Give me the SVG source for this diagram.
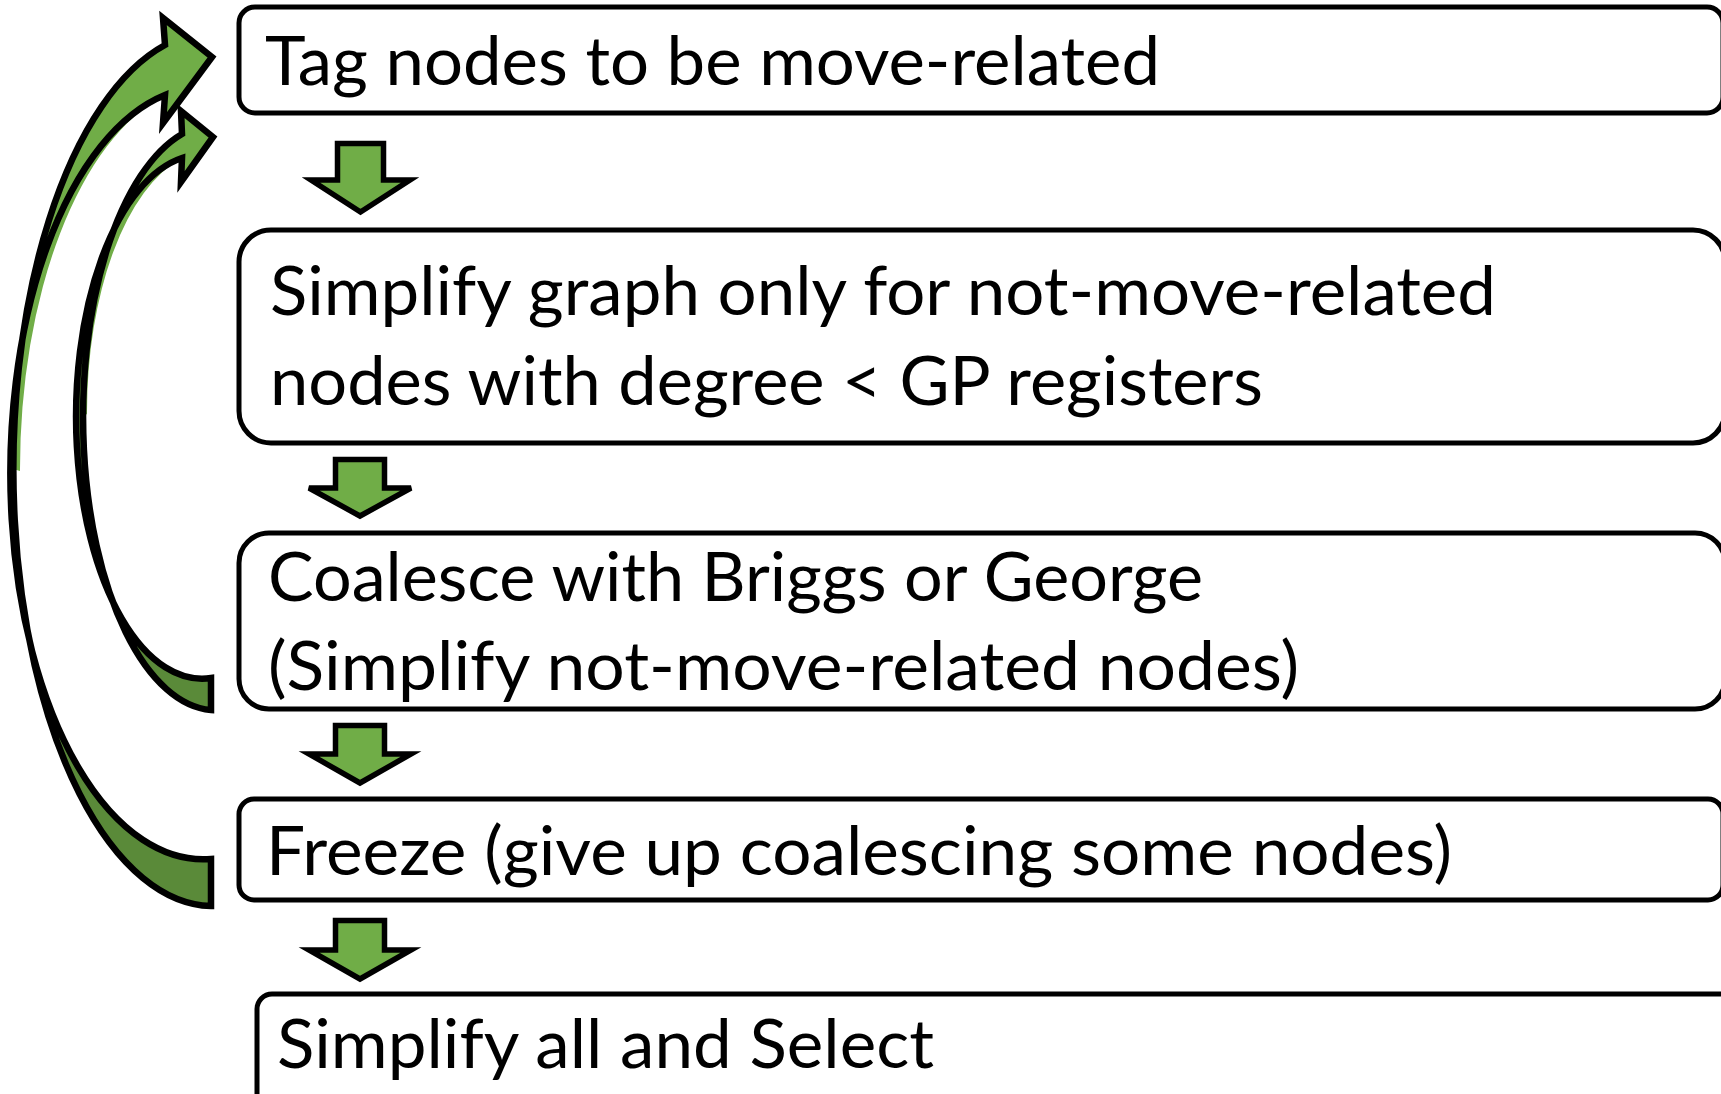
<svg xmlns="http://www.w3.org/2000/svg" width="1721" height="1094" viewBox="0 0 1721 1094">
<style>
.box{fill:#fff;stroke:#000;stroke-width:5}
.lbl{font-family:Lato,"Open Sans","Liberation Sans",sans-serif;font-size:67px;fill:#000}
.down{fill:#70AD47;stroke:#000;stroke-width:5.5;stroke-linejoin:miter}
.light{fill:#70AD47;stroke:none}
.dark{fill:#5A8A39;stroke:none}
.outline{fill:none;stroke:#000;stroke-width:6.5;stroke-linejoin:miter}
</style>
<rect width="1721" height="1094" fill="#fff"/>
<g id="connectors">
  <g id="loop-outer">
    <path class="dark" d="M 211 906 A 200 437 0 0 1 165 45 L 163 18 L 212 57 L 163 123 L 165 95 A 193 386 0 0 0 211 859 Z"/>
    <path class="light" d="M 13 469 A 200 437 0 0 1 165 45 L 163 18 L 212 57 L 163 123 L 165 95 A 193 386 0 0 0 20 471 Z"/>
    <path class="outline" d="M 211 906 A 200 437 0 0 1 165 45 L 163 18 L 212 57 L 163 123 L 165 95 A 193 386 0 0 0 211 859 Z"/>
  </g>
  <g id="loop-inner">
    <path class="dark" d="M 211 710 A 133 293 0 0 1 182 134 L 181 111 L 213 137 L 181 182 L 182 158 A 126 262 0 0 0 211 678 Z"/>
    <path class="light" d="M 80 418 A 133 293 0 0 1 182 134 L 181 111 L 213 137 L 181 182 L 182 158 A 126 262 0 0 0 87 414 Z"/>
    <path class="outline" d="M 211 710 A 133 293 0 0 1 182 134 L 181 111 L 213 137 L 181 182 L 182 158 A 126 262 0 0 0 211 678 Z"/>
  </g>
  <path class="down" d="M 337.5 143.5 H 383.5 V 180 H 410 L 360.5 212 L 311 180 H 337.5 Z"/>
  <path class="down" d="M 335.5 459.5 H 384.5 V 488 H 411 L 360 516 L 309 488 H 335.5 Z"/>
  <path class="down" d="M 335.5 725.5 H 384.5 V 754 H 411 L 360 783 L 309 754 H 335.5 Z"/>
  <path class="down" d="M 335.5 920.5 H 384.5 V 950 H 411 L 360 979 L 309 950 H 335.5 Z"/>
</g>
<g id="node-tag">
  <rect class="box" x="239" y="7" width="1484" height="106" rx="16"/>
  <text class="lbl" x="265" y="85" textLength="895" lengthAdjust="spacingAndGlyphs">Tag nodes to be move-related</text>
</g>
<g id="node-simplify">
  <rect class="box" x="239" y="230" width="1486" height="213" rx="32"/>
  <text class="lbl" x="270" y="315" textLength="1226" lengthAdjust="spacingAndGlyphs">Simplify graph only for not-move-related</text>
  <text class="lbl" x="270" y="405" textLength="993" lengthAdjust="spacingAndGlyphs">nodes with degree &lt; GP registers</text>
</g>
<g id="node-coalesce">
  <rect class="box" x="239" y="533" width="1486" height="176" rx="30"/>
  <text class="lbl" x="268" y="601" textLength="935" lengthAdjust="spacingAndGlyphs">Coalesce with Briggs or George</text>
  <text class="lbl" x="268" y="690" textLength="1031" lengthAdjust="spacingAndGlyphs">(Simplify not-move-related nodes)</text>
</g>
<g id="node-freeze">
  <rect class="box" x="239" y="799" width="1484" height="101" rx="15"/>
  <text class="lbl" x="266" y="875" textLength="1186" lengthAdjust="spacingAndGlyphs">Freeze (give up coalescing some nodes)</text>
</g>
<g id="node-select">
  <rect class="box" x="257" y="994" width="1490" height="130" rx="15"/>
  <text class="lbl" x="277" y="1068" textLength="657" lengthAdjust="spacingAndGlyphs">Simplify all and Select</text>
</g>
</svg>
